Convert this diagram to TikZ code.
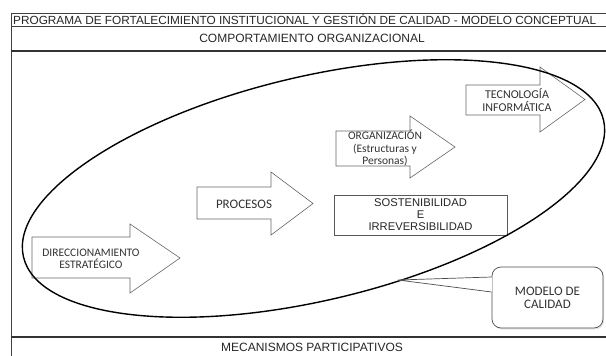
\documentclass[tikz,border=0pt]{standalone}
\usepackage{fontspec}
\setmainfont{Liberation Sans}
\newfontfamily\carlito{Carlito}
\usetikzlibrary{positioning,shadows}

\begin{document}
\begin{tikzpicture}[x=1pt,y=-1pt]
\tikzstyle{marco}=[draw=black!75, line width=0.9pt]
\tikzstyle{grueso}=[draw=black!80, line width=1.6pt]
\tikzstyle{titulo}=[font=\fontsize{12}{14}\selectfont, inner sep=0pt, text=black!85]
\tikzstyle{flecha}=[draw=black!60, fill=white, line width=0.6pt, line join=miter]
\tikzstyle{etiqueta}=[font=\carlito\fontsize{11.5}{12.5}\selectfont, align=center, inner sep=0pt, text=black!80]
\tikzstyle{caja}=[rectangle, draw=black!65, fill=white, line width=0.6pt, minimum width=173pt, minimum height=40pt, align=center, inner sep=0pt, font=\fontsize{11.2}{12}\selectfont, text=black!85]
\tikzstyle{globo}=[rectangle, rounded corners=9pt, draw=black!70, fill=white, line width=0.7pt, minimum width=111pt, minimum height=61pt, align=center, inner sep=0pt, font=\carlito\fontsize{13}{13}\selectfont, text=black!80, drop shadow={opacity=0.2, shadow xshift=1.2pt, shadow yshift=-1.5pt}]
\tikzstyle{ovalo}=[draw=black, line width=1.4pt]
\useasboundingbox (0,0) rectangle (606,356);
% marco
\draw[marco] (606,13) -- (11,13) -- (11,356);
\draw[marco] (11,26) -- (606,26);
\draw[grueso] (11,51) -- (606,51);
\draw[grueso] (11,337) -- (606,337);
\node[titulo, anchor=west, font=\fontsize{11.8}{14}\selectfont] (programa) at (13,19.5) {PROGRAMA DE FORTALECIMIENTO INSTITUCIONAL Y GESTIÓN DE CALIDAD - MODELO CONCEPTUAL};
\node[titulo] (comportamiento) at (312,38.5) {COMPORTAMIENTO ORGANIZACIONAL};
\node[titulo] (mecanismos) at (312,347.5) {MECANISMOS PARTICIPATIVOS};
% flechas
\draw[flecha] (32,237) -- (130,237) -- (130,224) -- (180,258) -- (130,293) -- (130,278) -- (32,278) -- cycle;
\draw[flecha] (197,187) -- (271,187) -- (271,172) -- (313,203.5) -- (271,235) -- (271,219) -- (197,219) -- cycle;
\draw[flecha] (336,131) -- (410,131) -- (410,116) -- (455,147) -- (410,178) -- (410,166) -- (336,166) -- cycle;
\draw[flecha] (466,85) -- (540,85) -- (540,67) -- (585,99.5) -- (540,132) -- (540,115) -- (466,115) -- cycle;
\node[etiqueta] (direccionamiento) at (91,259) {DIRECCIONAMIENTO\\ESTRATÉGICO};
\node[etiqueta, font=\carlito\fontsize{13}{14}\selectfont] (procesos) at (244,204) {PROCESOS};
\node[etiqueta] (organizacion) at (385,148) {ORGANIZACIÓN\\(Estructuras y\\Personas)};
\node[etiqueta, font=\carlito\fontsize{12}{13}\selectfont] (tecnologia) at (517,100.5) {TECNOLOGÍA\\INFORMÁTICA};
\node[caja] (sostenibilidad) at (420.5,215) {SOSTENIBILIDAD\\E\\IRREVERSIBILIDAD};
% modelo
\draw[ovalo, rotate around={13.3:(313.5,188.5)}] (313.5,188.5) ellipse [x radius=298, y radius=112];
\coordinate (punta) at (398,280);
\node[globo] (modelo) at (547.5,297.5) {MODELO DE\\CALIDAD};
\fill[white] ([yshift=20.5pt]modelo.west) -- (punta) -- ([yshift=5.5pt]modelo.west) -- cycle;
\draw[white, line width=1.2pt] ([yshift=20pt]modelo.west) -- ([yshift=6pt]modelo.west);
\draw[draw=black!70, line width=0.7pt] ([yshift=20.5pt]modelo.west) -- (punta) -- ([yshift=5.5pt]modelo.west);
\end{tikzpicture}
\end{document}
